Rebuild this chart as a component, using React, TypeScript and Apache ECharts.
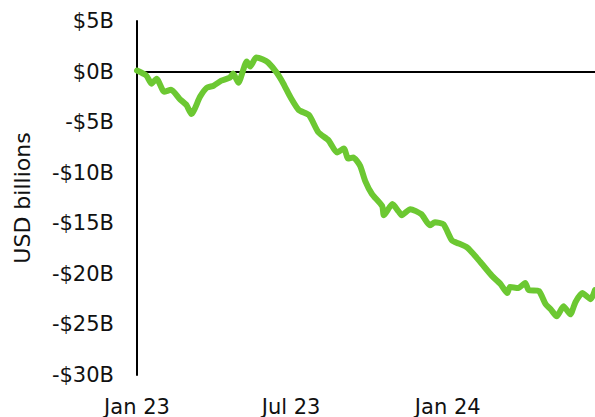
import React, { useEffect, useRef } from "react";
import * as echarts from "echarts";

const dates: string[] = [
  "2023-01-01", "2023-01-12", "2023-01-18", "2023-01-24", "2023-02-02", "2023-02-10",
  "2023-02-20", "2023-02-28", "2023-03-06", "2023-03-16", "2023-03-24", "2023-04-01",
  "2023-04-10", "2023-04-20", "2023-04-24", "2023-04-30", "2023-05-10", "2023-05-14",
  "2023-05-21", "2023-05-29", "2023-06-04", "2023-06-14", "2023-06-22", "2023-06-30",
  "2023-07-10", "2023-07-22", "2023-08-02", "2023-08-14", "2023-08-24", "2023-09-01",
  "2023-09-06", "2023-09-12", "2023-09-20", "2023-09-26", "2023-10-04", "2023-10-16",
  "2023-10-18", "2023-10-28", "2023-11-04", "2023-11-08", "2023-11-18", "2023-12-01",
  "2023-12-11", "2023-12-17", "2023-12-27", "2024-01-06", "2024-01-14", "2024-01-24",
  "2024-02-04", "2024-02-10", "2024-02-22", "2024-03-03", "2024-03-11", "2024-03-14",
  "2024-03-24", "2024-04-01", "2024-04-05", "2024-04-17", "2024-04-25", "2024-05-01",
  "2024-05-08", "2024-05-16", "2024-05-24", "2024-05-30", "2024-06-07", "2024-06-17",
  "2024-06-22",
];

const flows: number[] = [
  0.1, -0.4, -1.2, -0.7, -2.0, -1.8,
  -2.7, -3.3, -4.2, -2.5, -1.6, -1.4,
  -0.9, -0.6, -0.2, -1.1, 1.0, 0.5,
  1.4, 1.2, 0.9, -0.1, -1.2, -2.5,
  -3.8, -4.3, -6.0, -6.8, -8.0, -7.6,
  -8.6, -8.5, -9.3, -10.8, -12.1, -13.3,
  -14.2, -13.1, -13.8, -14.2, -13.6, -14.1,
  -15.2, -14.9, -15.1, -16.7, -17.0, -17.4,
  -18.4, -19.0, -20.2, -21.0, -21.9, -21.3,
  -21.4, -20.9, -21.6, -21.7, -23.0, -23.5,
  -24.2, -23.2, -24.0, -22.8, -21.9, -22.5,
  -21.6,
];

const xTickDates: string[] = ["2023-01-01", "2023-07-01", "2024-01-01"];
const xMin = "2023-01-01";
const xMax = "2024-06-22";
const yMin = -30;
const yMax = 5;
const yStep = 5;
const yAxisTitle = "USD billions";
const monthNames = ["Jan", "Feb", "Mar", "Apr", "May", "Jun", "Jul", "Aug", "Sep", "Oct", "Nov", "Dec"];

function toTs(s: string): number {
  const [y, m, d] = s.split("-").map(Number);
  return Date.UTC(y, m - 1, d);
}

export default function App() {
  const ref = useRef<HTMLDivElement>(null);
  useEffect(() => {
    if (!ref.current) return;
    const chart = echarts.init(ref.current, undefined, { renderer: "svg" });
    const font = "DejaVu Sans";
    chart.setOption({
      animation: false,
      backgroundColor: "#ffffff",
      grid: { left: 137, right: 0, top: 21, bottom: 42, containLabel: false },
      xAxis: {
        type: "value",
        min: toTs(xMin),
        max: toTs(xMax),
        axisLine: { show: false, onZero: false },
        axisTick: { show: false },
        splitLine: { show: false },
        axisLabel: {
          customValues: xTickDates.map(toTs),
          margin: 21,
          color: "#111111",
          fontSize: 21,
          fontFamily: font,
          hideOverlap: false,
          formatter: (v: number) => {
            const d = new Date(v);
            return `${monthNames[d.getUTCMonth()]} ${String(d.getUTCFullYear()).slice(2)}`;
          },
        },
      },
      yAxis: {
        type: "value",
        min: yMin,
        max: yMax,
        interval: yStep,
        name: yAxisTitle,
        nameLocation: "middle",
        nameRotate: 90,
        nameGap: 104,
        nameTextStyle: { color: "#111111", fontSize: 22, fontFamily: font },
        axisLine: { show: true, lineStyle: { color: "#000000", width: 2 } },
        axisTick: { show: false },
        splitLine: { show: false },
        axisLabel: {
          margin: 23,
          color: "#111111",
          fontSize: 21,
          fontFamily: font,
          formatter: (v: number) => (v < 0 ? `-$${-v}B` : `$${v}B`),
        },
      },
      series: [
        {
          type: "line",
          data: dates.map((d, i) => [toTs(d), flows[i]]),
          showSymbol: false,
          symbol: "none",
          smooth: 0.2,
          lineStyle: { color: "#6cc832", width: 6, cap: "round", join: "round" },
          markLine: {
            silent: true,
            symbol: "none",
            label: { show: false },
            lineStyle: { color: "#000000", width: 2, type: "solid" },
            data: [{ yAxis: 0 }],
            z: 1,
          },
          z: 3,
        },
      ],
    });
    return () => chart.dispose();
  }, []);
  return (
    <div
      ref={ref}
      style={{ position: "fixed", left: 0, top: 0, width: 595, height: 417 }}
    />
  );
}
